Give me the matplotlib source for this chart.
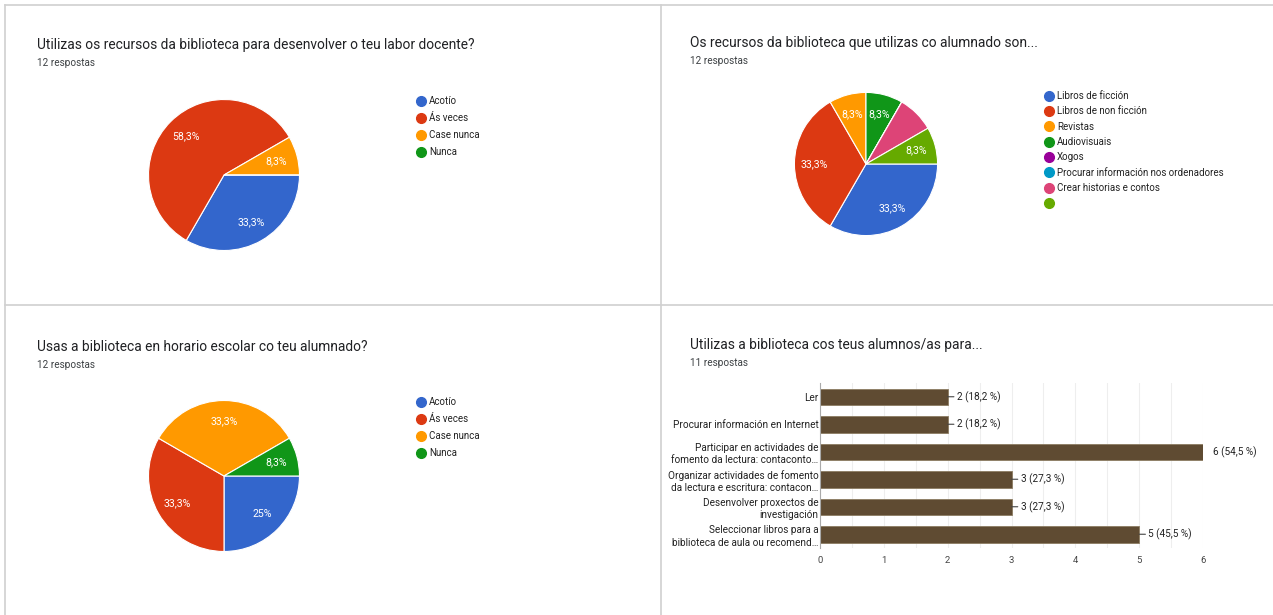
import matplotlib
matplotlib.use('Agg')
import matplotlib.pyplot as plt
from matplotlib.lines import Line2D
import numpy as np

W, H = 1273, 615

# --- data ---
freq_labels = ['Acotío', 'Ás veces', 'Case nunca', 'Nunca']
docente_vals = [4, 7, 1, 0]
horario_vals = [3, 4, 4, 1]

recursos_labels = ['Libros de ficción', 'Libros de non ficción', 'Revistas', 'Audiovisuais',
                   'Xogos', 'Procurar información nos ordenadores', 'Crear historias e contos', '']
recursos_vals = [4, 4, 1, 1, 0, 0, 1, 1]
recursos_show = [True, True, True, True, False, False, False, True]

usos_labels = ['Ler', 'Procurar información en Internet',
               'Participar en actividades de\nfomento da lectura: contaconto…',
               'Organizar actividades de fomento\nda lectura e escritura: contacon…',
               'Desenvolver proxectos de\ninvestigación',
               'Seleccionar libros para a\nbiblioteca de aula ou recomend…']
usos_vals = [2, 2, 6, 3, 3, 5]
usos_total = 11

google = ['#3366cc', '#dc3912', '#ff9900', '#109618', '#990099', '#0099c6', '#dd4477', '#66aa00']
bar_color = '#5f4b32'

plt.rcParams['font.family'] = ['Roboto', 'DejaVu Sans']


def box(x, y, w, h):
    return [x / W, 1 - (y + h) / H, w / W, h / H]


def fx(x):
    return x / W


def fy(y):
    return 1 - y / H


fig = plt.figure(figsize=(W / 100, H / 100), dpi=100)
fig.patch.set_facecolor('white')

# panel borders
for xs, ys in [([5, W], [5, 5]), ([5, 5], [5, H]), ([661, 661], [5, H]), ([5, W], [305, 305])]:
    fig.add_artist(Line2D([fx(v) for v in xs], [fy(v) for v in ys], color='#d0d0d0', lw=1.2))


def header(x, y, title, sub):
    fig.text(fx(x), fy(y), title, fontsize=9.9, color='#202124', va='center', ha='left')
    fig.text(fx(x), fy(y + 18), sub, fontsize=7.2, color='#3c4043', va='center', ha='left')


def pie(cx, cy, r, vals, colors, show=None):
    ax = fig.add_axes(box(cx - r, cy - r, 2 * r, 2 * r))
    wedges, _ = ax.pie(vals, colors=colors, startangle=0, counterclock=False,
                       wedgeprops=dict(edgecolor='white', linewidth=0.8))
    total = float(sum(vals))
    for i, (w, v) in enumerate(zip(wedges, vals)):
        if v == 0 or (show is not None and not show[i]):
            continue
        ang = np.deg2rad((w.theta1 + w.theta2) / 2)
        pct = 100 * v / total
        s = ('%.1f' % pct).replace('.', ',') + '%'
        if s.endswith(',0%'):
            s = s.replace(',0%', '%')
        ax.text(0.72 * np.cos(ang), 0.72 * np.sin(ang), s, color='white', fontsize=7.6,
                ha='center', va='center')
    ax.set_xlim(-1.02, 1.02)
    ax.set_ylim(-1.02, 1.02)
    ax.set_aspect('equal')
    ax.axis('off')
    return ax


def legend(ax, labels, colors, x, y, size, spacing):
    handles = [Line2D([], [], marker='o', ls='', markersize=7, color=c) for c in colors]
    ax.legend(handles, labels, loc='upper left', bbox_to_anchor=(fx(x), fy(y)),
              bbox_transform=fig.transFigure, frameon=False, fontsize=size,
              handlelength=0.6, handletextpad=0.55, labelspacing=spacing, borderpad=0,
              borderaxespad=0, labelcolor='#222222')


# panel 1
header(37, 45, 'Utilizas os recursos da biblioteca para desenvolver o teu labor docente?', '12 respostas')
ax1 = pie(224, 175, 77, docente_vals, google[:4])
legend(ax1, freq_labels, google[:4], 418, 96, 7, 0.72)

# panel 2
header(690, 43, 'Os recursos da biblioteca que utilizas co alumnado son...', '12 respostas')
ax2 = pie(866, 164, 73, recursos_vals, google, recursos_show)
legend(ax2, recursos_labels, google, 1046, 91, 7, 0.55)

# panel 3
header(37, 347, 'Usas a biblioteca en horario escolar co teu alumnado?', '12 respostas')
ax3 = pie(224, 476, 77, horario_vals, google[:4])
legend(ax3, freq_labels, google[:4], 418, 397, 7, 0.72)

# panel 4
header(690, 345, 'Utilizas a biblioteca cos teus alumnos/as para...', '11 respostas')
ax4 = fig.add_axes(box(820, 383, 383, 165))
ypos = list(range(len(usos_vals)))
ax4.barh(ypos, usos_vals, height=0.6, color=bar_color, edgecolor='#8c7c62', linewidth=0.6, zorder=3)
ax4.set_ylim(len(usos_vals) - 0.5, -0.5)
ax4.set_xlim(0, 6)
ax4.set_xticks(range(7))
ax4.set_xticks([i + 0.5 for i in range(6)], minor=True)
ax4.set_yticks(ypos)
ax4.set_yticklabels(usos_labels, fontsize=7.2, color='#222222', linespacing=1.3)
ax4.tick_params(axis='x', length=0, labelsize=6.8, labelcolor='#444444', pad=6)
ax4.tick_params(axis='x', which='minor', length=0)
ax4.tick_params(axis='y', length=0, pad=1)
ax4.grid(axis='x', which='both', color='#eeeeee', lw=0.8, zorder=0)
for s in ['top', 'right', 'bottom']:
    ax4.spines[s].set_visible(False)
ax4.spines['left'].set_color('#aaaaaa')
ax4.spines['left'].set_zorder(4)
for i, v in enumerate(usos_vals):
    pct = ('%.1f' % (100 * v / usos_total)).replace('.', ',')
    lbl = '%d (%s %%)' % (v, pct)
    if v < max(usos_vals):
        ax4.annotate(lbl, xy=(v, i), xytext=(6.5, 0), textcoords='offset points',
                     fontsize=7.2, color='#222222', va='center', ha='left',
                     arrowprops=dict(arrowstyle='-', color='#444444', lw=0.8,
                                     shrinkA=0, shrinkB=0))
    else:
        ax4.annotate(lbl, xy=(v, i), xytext=(7, 0), textcoords='offset points',
                     fontsize=7.2, color='#222222', va='center', ha='left',
                     annotation_clip=False)

fig.savefig('out.png', dpi=100, facecolor='white')
